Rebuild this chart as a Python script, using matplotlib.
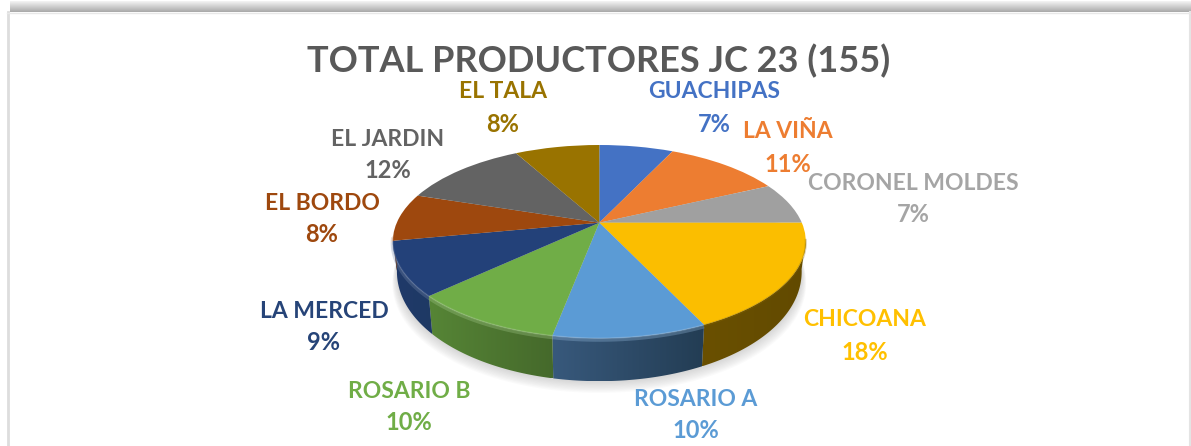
import numpy as np
import matplotlib
matplotlib.use("Agg")
import matplotlib.pyplot as plt
from matplotlib.patches import Polygon
from matplotlib.transforms import Transform

plt.rcParams['font.family'] = ['Lato', 'DejaVu Sans']

title = "TOTAL PRODUCTORES JC 23 (155)"
zonas = ["GUACHIPAS", "LA VIÑA", "CORONEL MOLDES", "CHICOANA", "ROSARIO A",
         "ROSARIO B", "LA MERCED", "EL BORDO", "EL JARDIN", "EL TALA"]
porcentajes = [7, 11, 7, 18, 10, 10, 9, 8, 12, 8]
colores = ["#4472C4", "#ED7D31", "#A0A0A0", "#FBBE00", "#5B9BD5",
           "#70AD47", "#234179", "#9E480E", "#636363", "#997300"]
texto_col = ["#4472C4", "#ED7D31", "#A5A5A5", "#FFC000", "#5B9BD5",
             "#70AD47", "#264478", "#9E480E", "#636363", "#997300"]
lado_izq = ["#2A4576", "#8E4B1D", "#636363", "#6A5000", "#38597C",
            "#568536", "#20396A", "#5F2B08", "#3B3B3B", "#5C4500"]
lado_der = ["#2A4576", "#8E4B1D", "#636363", "#624A00", "#233D54",
            "#45692B", "#1E3A64", "#5F2B08", "#3B3B3B", "#5C4500"]
etiqueta_pos = [(714, 92), (788, 132), (913, 183), (865, 320), (696, 399),
                (409, 391), (324, 311), (322, 203), (388, 139), (503, 92)]

CX, CY = 599.3, 222.7
A, B, K = 92.9, 202.5, 0.1956


class Perspectiva(Transform):
    input_dims = 2
    output_dims = 2

    def transform_non_affine(self, values):
        values = np.asarray(values, dtype=float)
        d = 1 + K * values[:, 1]
        return np.column_stack([CX + B * values[:, 0] / d, CY - A * values[:, 1] / d])


persp = Perspectiva()


def borde(t1, t2, n=80):
    t = np.radians(np.linspace(t1, t2, n))
    return persp.transform_non_affine(np.column_stack([np.cos(t), np.sin(t)])), np.sin(t)


def abajo(puntos, v):
    # borde inferior del cilindro
    x = CX + (puntos[:, 0] - CX) * 0.98
    y = puntos[:, 1] + 27 - 16 * v
    return np.column_stack([x, y])


fig = plt.figure(figsize=(11.91, 4.46), dpi=100, facecolor="white")
ax = fig.add_axes([0, 0, 1, 1])

wedges, _ = ax.pie(porcentajes, colors=colores, startangle=90, counterclock=False,
                   radius=1, wedgeprops={"linewidth": 0})
ax.set_aspect("auto")
for w in wedges:
    w.set_transform(persp + ax.transData)
    w.set_zorder(5)
    w.set_antialiased(True)

# sombra
p_all, v_all = borde(0, 360, 200)
base = abajo(p_all, v_all)
for s in range(1, 10):
    sp = base.copy()
    sp[:, 0] = CX + (sp[:, 0] - CX) * (1 + 0.0025 * s)
    sp[:, 1] = sp[:, 1] + 1.3 * s
    ax.add_patch(Polygon(sp, closed=True, fc="#808080", ec="none", alpha=0.035, zorder=1))

# caras laterales
for w, ci, cd in zip(wedges, lado_izq, lado_der):
    t1, t2 = max(w.theta1, -172), min(w.theta2, -10)
    if t2 <= t1:
        continue
    arriba, v = borde(t1, t2)
    poly = np.vstack([arriba, abajo(arriba, v)[::-1]])
    c1, c2 = np.array(matplotlib.colors.to_rgb(ci)), np.array(matplotlib.colors.to_rgb(cd))
    mezcla = np.linspace(0, 1, 128)[None, :, None]
    img = c1[None, None, :] * (1 - mezcla) + c2[None, None, :] * mezcla
    x0, x1 = poly[:, 0].min(), poly[:, 0].max()
    y0, y1 = poly[:, 1].min(), poly[:, 1].max()
    im = ax.imshow(img, extent=(x0, x1, y1, y0), aspect="auto", zorder=3,
                   interpolation="bilinear")
    clip = Polygon(poly, closed=True, fc="none", ec="none", transform=ax.transData)
    ax.add_patch(clip)
    im.set_clip_path(clip)

# brillo del borde
for w, col in zip(wedges, colores):
    t1, t2 = max(w.theta1, -172), min(w.theta2, -10)
    if t2 <= t1:
        continue
    arriba, v = borde(t1, t2)
    claro = 0.6 * np.array(matplotlib.colors.to_rgb(col)) + 0.4
    oscuro = 0.55 * np.array(matplotlib.colors.to_rgb(col))
    if col == "#FBBE00":
        ax.plot(arriba[:, 0], arriba[:, 1] + 0.5, color=oscuro, lw=1.5, alpha=0.3, zorder=6)
    else:
        ax.plot(arriba[:, 0], arriba[:, 1] + 1.5, color=claro, lw=3, alpha=0.3, zorder=4,
                solid_capstyle="butt")
        ax.plot(arriba[:, 0], arriba[:, 1], color=claro, lw=1.2, alpha=0.3, zorder=6,
                solid_capstyle="butt")

# etiquetas
for nombre, pct, col, (x, y) in zip(zonas, porcentajes, texto_col, etiqueta_pos):
    ax.text(x, y, nombre, color=col, fontsize=16.5, fontweight="bold", ha="center",
            va="center", zorder=8)
    ax.text(x, y + 32, f"{pct}%", color=col, fontsize=17, fontweight="bold", ha="center",
            va="center", zorder=8)

ax.text(599, 61, title, color="#595959", fontsize=26, fontweight="bold", ha="center",
        va="center", zorder=8)

# marco de la captura
banda = np.linspace(0.96, 0.66, 64)[:, None, None].repeat(3, axis=2)
ax.imshow(banda, extent=(10, 1191, 12, 1), aspect="auto", zorder=2, interpolation="bilinear")
ax.plot([7.5, 7.5], [12, 446], color="#DDDDDD", lw=2, zorder=2)
ax.plot([1189.5, 1189.5], [12, 446], color="#E4E4E4", lw=1.5, zorder=2)
ax.plot([7, 1191], [12.5, 12.5], color="#E8E8E8", lw=1, zorder=2)

ax.set_xlim(0, 1191)
ax.set_ylim(446, 0)
ax.axis("off")

fig.savefig("out.png", dpi=100)
